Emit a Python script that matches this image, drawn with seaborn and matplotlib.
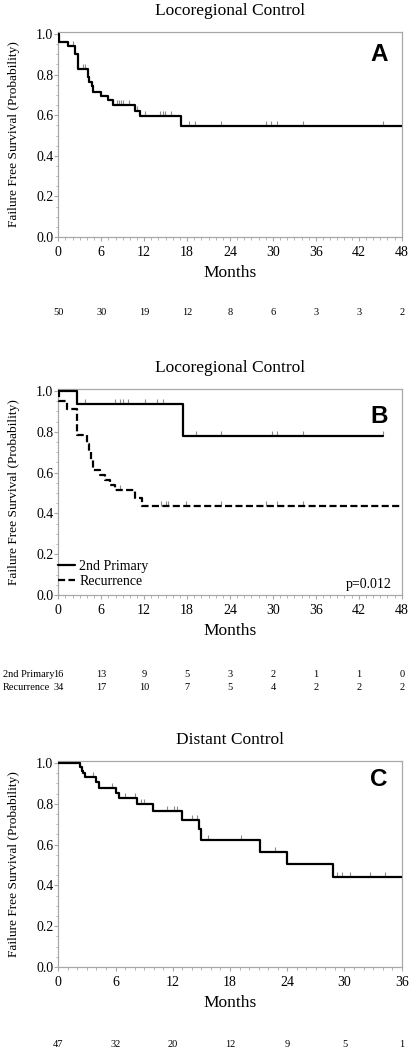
"""
Kaplan-Meier failure free survival panels (A: locoregional, B: by failure type, C: distant).
"""

import matplotlib
matplotlib.use('Agg')
import matplotlib.pyplot as plt
from matplotlib.ticker import MultipleLocator
from matplotlib.lines import Line2D
import seaborn as sns
import numpy as np

# PANEL A - locoregional control, all patients
a_times = [0, 0.1, 1.3, 2.4, 2.7, 4.1, 4.3, 4.7, 4.9, 6.0, 6.9, 7.6, 10.7, 11.4, 17.2, 48]
a_surv = [1.0, 0.96, 0.94, 0.90, 0.83, 0.79, 0.765, 0.745, 0.715, 0.695, 0.675, 0.65, 0.62, 0.595, 0.545, 0.545]
a_censor = [2.1, 3.5, 3.7, 8.2, 8.5, 8.8, 9.1, 9.9, 10.95, 12.1, 14.2, 14.6, 14.9, 15.8,
            18.3, 19.1, 22.8, 29.1, 29.7, 30.5, 34.2, 45.4]
a_risk = [50, 30, 19, 12, 8, 6, 3, 3, 2]

# PANEL B - 2nd primary vs recurrence
b_primary_times = [0, 2.66, 17.4, 45.4]
b_primary_surv = [1.0, 0.935, 0.78, 0.78]
b_primary_censor = [3.7, 7.9, 8.6, 9.1, 9.8, 12.1, 13.75, 14.7, 19.2, 22.8, 29.8, 30.5, 34.2, 45.4]
b_recur_times = [0, 0.05, 1.2, 2.6, 4.0, 4.3, 4.6, 4.9, 5.8, 6.5, 7.2, 7.9, 10.7, 11.65, 48]
b_recur_surv = [1.0, 0.95, 0.91, 0.785, 0.74, 0.70, 0.66, 0.615, 0.59, 0.565, 0.54, 0.515, 0.475, 0.435, 0.435]
b_recur_censor = [8.6, 14.4, 15.0, 15.4, 17.9, 22.8, 29.1, 30.5, 34.2]
b_risk_primary = [16, 13, 9, 5, 3, 2, 1, 1, 0]
b_risk_recur = [34, 17, 10, 7, 5, 4, 2, 2, 2]
b_labels = ["2nd Primary", "Recurrence"]
b_pvalue = "p=0.012"

# PANEL C - distant control
c_times = [0, 2.27, 2.45, 2.6, 2.8, 4.0, 4.3, 6.05, 6.4, 8.2, 9.9, 13.0, 14.8, 15.0, 21.1, 24.0, 28.8, 36]
c_surv = [1.0, 0.98, 0.96, 0.95, 0.93, 0.905, 0.88, 0.855, 0.83, 0.80, 0.765, 0.72, 0.675, 0.625,
          0.565, 0.505, 0.44, 0.44]
c_censor = [3.6, 5.6, 7.0, 8.0, 8.7, 9.0, 11.4, 12.1, 12.4, 14.0, 14.5, 15.7, 19.2, 22.7,
            29.2, 29.7, 30.6, 32.7, 34.2]
c_risk = [47, 32, 20, 12, 9, 5, 1]

FRAME = '#a8a8a8'
DASH = (0, (3.2, 1.5))

sns.set_theme(style="white")
plt.rcParams['font.family'] = ['Liberation Serif', 'DejaVu Serif']
for key in ['text.color', 'axes.labelcolor', 'xtick.labelcolor', 'ytick.labelcolor']:
    plt.rcParams[key] = 'black'


def step_value(times, surv, at):
    # survival level of the step curve at each censoring time
    idx = np.searchsorted(times, at, side='right') - 1
    return np.asarray(surv)[idx]


def draw_curve(ax, times, surv, censor, ls='-'):
    sns.lineplot(x=times, y=surv, drawstyle='steps-post', estimator=None, sort=False,
                 color='black', lw=1.6, linestyle=ls, ax=ax, zorder=3)
    sns.scatterplot(x=censor, y=step_value(times, surv, censor), marker=2, s=14,
                    color='#8c8c8c', linewidth=0.8, ax=ax, zorder=2)


def style_axes(ax, xmax, title, letter, letter_y):
    ax.set_xlim(0, xmax)
    ax.set_ylim(0, 1.01)
    ax.set_xticks(np.arange(0, xmax + 1, 6))
    ax.set_yticks(np.arange(0, 1.01, 0.2))
    ax.yaxis.set_major_formatter(lambda v, p: f"{v:.1f}")
    ax.xaxis.set_minor_locator(MultipleLocator(1))
    ax.yaxis.set_minor_locator(MultipleLocator(0.05))
    ax.tick_params(which='both', direction='out', color=FRAME, bottom=True, left=True,
                   labelsize=10, labelcolor='black')
    ax.tick_params(which='major', length=3, width=0.8)
    ax.tick_params(which='minor', length=1.8, width=0.6)
    ax.tick_params(axis='x', pad=3.5)
    ax.tick_params(axis='y', pad=0.5)
    for sp in ax.spines.values():
        sp.set_color(FRAME)
        sp.set_linewidth(0.9)
    ax.set_title(title, fontsize=12.5, pad=12, color='black')
    ax.set_xlabel("Months", fontsize=12.5, color='black')
    ax.xaxis.set_label_coords(0.5, -0.135)
    ax.set_ylabel("Failure Free Survival (Probability)", fontsize=9.6, color='black')
    ax.yaxis.set_label_coords(-0.112, 0.5)
    ax.text(0.934, letter_y, letter, transform=ax.transAxes, fontsize=17.5, fontweight='bold',
            family='Liberation Sans', color='black', ha='center', va='center')


def risk_row(ax, xticks, counts, y):
    for x, n in zip(xticks, counts):
        ax.text(x, y, str(n), transform=ax.get_xaxis_transform(), ha='center', va='center',
                fontsize=7.5, color='black')


fig = plt.figure(figsize=(4.1, 10.5), dpi=100)

# A
ax_a = fig.add_axes([0.1422, 0.7743, 0.8376, 0.1952])
draw_curve(ax_a, a_times, a_surv, a_censor)
style_axes(ax_a, 48, "Locoregional Control", "A", 0.888)
risk_row(ax_a, np.arange(0, 49, 6), a_risk, -0.366)

# B
ax_b = fig.add_axes([0.1422, 0.4333, 0.8376, 0.1962])
draw_curve(ax_b, b_primary_times, b_primary_surv, b_primary_censor)
draw_curve(ax_b, b_recur_times, b_recur_surv, b_recur_censor, ls=DASH)
style_axes(ax_b, 48, "Locoregional Control", "B", 0.869)
handles = [Line2D([], [], color='black', lw=1.6),
           Line2D([], [], color='black', lw=1.6, linestyle=DASH)]
ax_b.legend(handles, b_labels, loc='lower left', bbox_to_anchor=(0.0, 0.035), frameon=False,
            fontsize=10, handlelength=1.2, handletextpad=0.3, labelspacing=0.15,
            borderaxespad=0, borderpad=0)
ax_b.text(0.972, 0.05, b_pvalue, transform=ax_b.transAxes, ha='right', va='center', fontsize=10)
risk_row(ax_b, np.arange(0, 49, 6), b_risk_primary, -0.388)
risk_row(ax_b, np.arange(0, 49, 6), b_risk_recur, -0.447)
for label, y in zip(b_labels, [-0.388, -0.447]):
    ax_b.text(-0.161, y, label, transform=ax_b.transAxes, ha='left', va='center', fontsize=7.5)

# C
ax_c = fig.add_axes([0.1422, 0.0790, 0.8376, 0.1962])
draw_curve(ax_c, c_times, c_surv, c_censor)
style_axes(ax_c, 36, "Distant Control", "C", 0.908)
risk_row(ax_c, np.arange(0, 37, 6), c_risk, -0.377)

fig.savefig("out.png", dpi=100)
